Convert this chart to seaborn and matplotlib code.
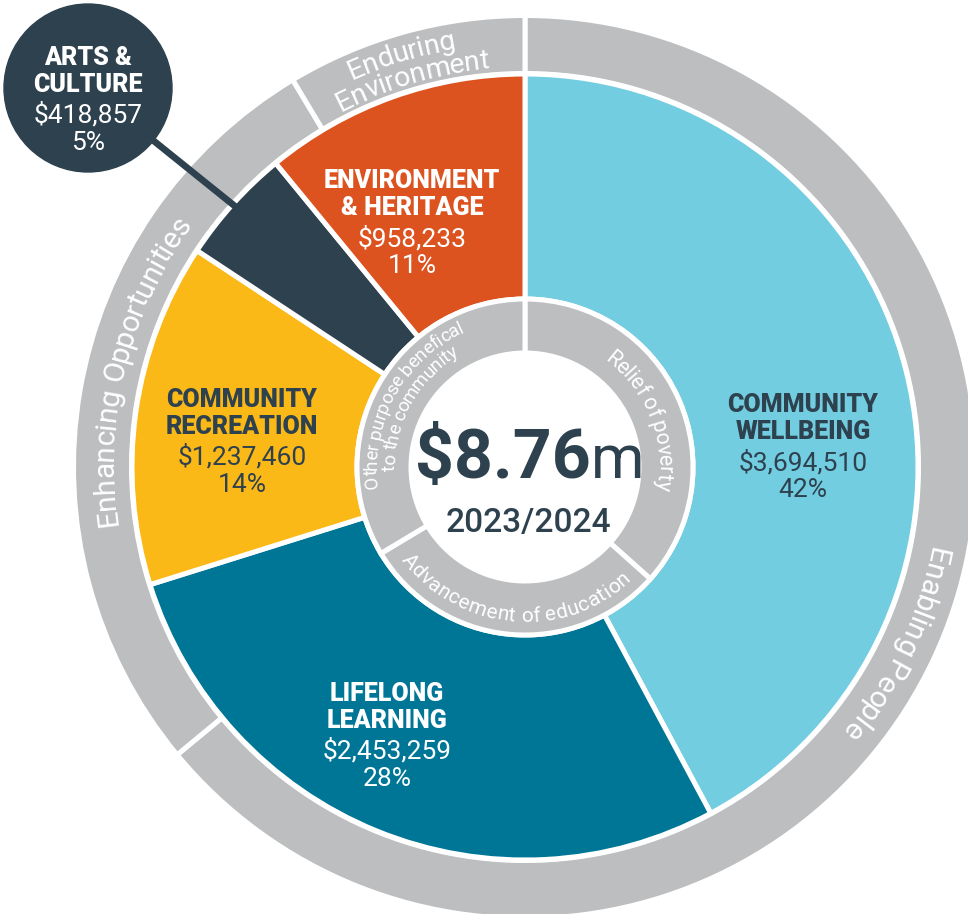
import numpy as np
import matplotlib
matplotlib.use("Agg")
import matplotlib.pyplot as plt
import seaborn as sns
from matplotlib.font_manager import FontProperties, findfont
from matplotlib.ft2font import FT2Font
from matplotlib.patches import Circle

W, H, DPI = 968, 914, 100

# ---- data ----
segment_titles = ["COMMUNITY\nWELLBEING", "LIFELONG\nLEARNING", "COMMUNITY\nRECREATION",
                  "ARTS &\nCULTURE", "ENVIRONMENT\n& HERITAGE"]
segment_amounts = [3694510, 2453259, 1237460, 418857, 958233]
outer_labels = [["Enabling People"], ["Enhancing Opportunities"], ["Enduring", "Environment"]]
outer_shares = [64.0, 27.4, 8.6]
inner_labels = [["Relief of poverty"], ["Advancement of education"],
                ["Other purpose benefical", "to the community"]]
inner_shares = [36.6, 29.8, 33.6]
year_label = "2023/2024"

# ---- styling ----
seg_colors = ["#72CDE0", "#007697", "#FBB917", "#2E414E", "#DC5320"]
title_colors = ["#2E414E", "white", "#2E414E", "white", "white"]
GRAY = "#BDBEC0"
DARK = "#2E414E"

sns.set_theme(style="white")
plt.rcParams["font.family"] = ["Roboto", "DejaVu Sans"]

CX, CY = 525, H - 467


def arc_text(ax, s, angle_c, r_base, size, clockwise=True, weight="normal", color="white"):
    """Lay a string out along a circle, one character at a time."""
    fp = FontProperties(family="Roboto", weight=weight, size=size)
    ft = FT2Font(findfont(fp))
    ft.set_size(size, DPI)
    advs = [ft.load_char(ord(c)).linearHoriAdvance / 65536 for c in s]
    cap = 0.71 * size * DPI / 72
    r_mid = r_base + cap / 2 if clockwise else r_base - cap / 2
    total = sum(advs) / r_mid
    pos = 0.0
    for c, a in zip(s, advs):
        off = np.degrees((pos + a / 2) / r_mid - total / 2)
        theta = angle_c + off if clockwise else angle_c - off
        t = np.radians(theta)
        x = CX + r_base * np.sin(t)
        y = CY + r_base * np.cos(t)
        rot = -theta if clockwise else 180 - theta
        ax.text(x, y, c, rotation=rot, rotation_mode="anchor", ha="center", va="baseline",
                fontproperties=fp, color=color, zorder=6)
        pos += a


fig = plt.figure(figsize=(W / DPI, H / DPI), dpi=DPI)
ax = fig.add_axes([0, 0, 1, 1])

wp = dict(edgecolor="white", linewidth=3.6)
ax.pie(outer_shares, radius=451.5, center=(CX, CY), startangle=90, counterclock=False,
       colors=[GRAY] * len(outer_shares), wedgeprops=dict(width=58, **wp))
ax.pie(segment_amounts, radius=393, center=(CX, CY), startangle=90, counterclock=False,
       colors=sns.color_palette(seg_colors), wedgeprops=dict(width=225, **wp))
ax.pie(inner_shares, radius=168, center=(CX, CY), startangle=90, counterclock=False,
       colors=[GRAY] * len(inner_shares), wedgeprops=dict(width=54, **wp))

ax.set_xlim(0, W)
ax.set_ylim(0, H)
ax.set_aspect("equal")
ax.axis("off")

# ring captions (angle clockwise from top, baseline radius, size)
outer_layout = [[(115.5, 412, 21.5)], [(284.0, 412, 21.5)], [(343.3, 424, 20.5), (343.8, 400, 20.5)]]
for lines, lay in zip(outer_labels, outer_layout):
    for s, (ang, r, sz) in zip(lines, lay):
        arc_text(ax, s, ang, r, sz)

inner_layout = [[(68.0, 133, 15.5, True)], [(185.0, 155, 15, False)],
                [(299.0, 148, 13.5, True), (299.0, 130, 13.5, True)]]
for lines, lay in zip(inner_labels, inner_layout):
    for s, (ang, r, sz, cw) in zip(lines, lay):
        arc_text(ax, s, ang, r, sz, clockwise=cw)

# arts & culture bubble + leader
total = sum(segment_amounts)
cum = np.cumsum([0] + segment_amounts)
mid = np.radians((cum[3] + segment_amounts[3] / 2) / total * 360)
bx, by = 88, H - 88
ax.plot([bx, CX + 382 * np.sin(mid)], [by, CY + 382 * np.cos(mid)], color=DARK, lw=4.8,
        solid_capstyle="butt", zorder=4)
ax.add_patch(Circle((bx, by), 84, color=DARK, zorder=5))

# segment labels: (x, y of first title line centre) in image pixels
label_xy = [(803, 404), (387, 693), (242, 399), (88, 57), (412, 180)]
for title, amt, col, (lx, ly) in zip(segment_titles, segment_amounts, title_colors, label_xy):
    t1, t2 = title.split("\n")
    pct = f"{round(amt / total * 100)}%"
    for txt, dy, wt, sz in [(t1, 8, "black", 18), (t2, 35, "black", 18),
                            (f"${amt:,}", 66, "normal", 19), (pct, 93, "normal", 19)]:
        ax.text(lx, H - (ly + dy), txt, ha="center", va="baseline", fontsize=sz,
                fontweight=wt, color=col, zorder=7)

# centre total
ax.text(591, H - 478, f"${total / 1e6:.2f}", ha="right", va="baseline", fontsize=49,
        fontweight="bold", color=DARK)
ax.text(591, H - 478, "m", ha="left", va="baseline", fontsize=44, color=DARK)
ax.text(528, H - 532, year_label, ha="center", va="baseline", fontsize=24,
        fontweight="medium", color=DARK)

fig.savefig("out.png", dpi=DPI, facecolor="white")
